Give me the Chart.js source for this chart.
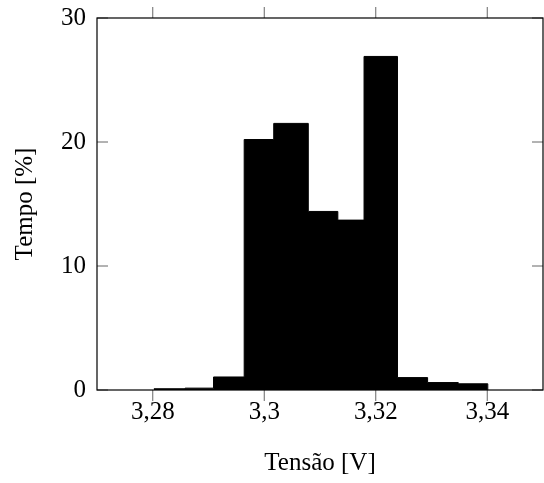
<!DOCTYPE html>
<html>
<head>
<meta charset="utf-8">
<title>Tempo x Tensão</title>
<script src="https://cdn.jsdelivr.net/npm/chart.js@4.4.0/dist/chart.umd.min.js"></script>
<style>
  html, body { margin: 0; padding: 0; background: #fff; }
  canvas { display: block; }
</style>
</head>
<body>
<canvas id="histChart" width="544" height="483"></canvas>
<script>
/* histogram bins: left edges + final right edge (V), heights in % */
const binEdges = [3.2802, 3.2858, 3.2909, 3.2964, 3.3017, 3.3079, 3.3132, 3.3179, 3.3239, 3.3293, 3.3348, 3.3401];
const binHeights = [0.1, 0.15, 1.05, 20.2, 21.5, 14.4, 13.7, 26.9, 1.0, 0.6, 0.5];

const xTicks = [3.28, 3.30, 3.32, 3.34];
const xTickLabels = ["3,28", "3,3", "3,32", "3,34"];
const yTicks = [0, 10, 20, 30];

const FONT = "'Liberation Serif', 'Times New Roman', serif";

/* step points: each left edge carries its bin height, last edge drops to 0 */
function buildSteps() {
  const pts = binHeights.map((h, i) => ({x: binEdges[i], y: h}));
  pts.push({x: binEdges[binEdges.length - 1], y: 0});
  return pts;
}

/* frame + pgfplots-like ticks (x outside, y inside) */
const frameTicks = {
  id: "frameTicks",
  afterDatasetsDraw(chart) {
    const {ctx, chartArea: a, scales} = chart;
    const len = 11;
    ctx.save();
    ctx.strokeStyle = "#555";
    ctx.lineWidth = 0.9;
    ctx.beginPath();
    xTicks.forEach(v => {
      const px = scales.x.getPixelForValue(v);
      ctx.moveTo(px, a.bottom); ctx.lineTo(px, a.bottom + len);
      ctx.moveTo(px, a.top); ctx.lineTo(px, a.top - len);
    });
    yTicks.forEach(v => {
      const py = scales.y.getPixelForValue(v);
      ctx.moveTo(a.left, py); ctx.lineTo(a.left + len, py);
      ctx.moveTo(a.right, py); ctx.lineTo(a.right - len, py);
    });
    ctx.stroke();
    ctx.strokeStyle = "#000";
    ctx.lineWidth = 1.2;
    ctx.strokeRect(a.left, a.top, a.right - a.left, a.bottom - a.top);
    ctx.restore();
  }
};

function initChart() {
  const ctx = document.getElementById("histChart").getContext("2d");
  new Chart(ctx, {
    type: "line",
    data: {
      datasets: [{
        data: buildSteps(),
        stepped: true,
        fill: "origin",
        backgroundColor: "#000",
        borderColor: "#000",
        borderWidth: 1,
        pointRadius: 0
      }]
    },
    options: {
      responsive: false,
      animation: false,
      layout: { padding: { top: 18, right: 1, left: 0, bottom: 0 } },
      plugins: { legend: { display: false }, tooltip: { enabled: false } },
      scales: {
        x: {
          type: "linear",
          min: 3.27,
          max: 3.35,
          afterBuildTicks: s => { s.ticks = xTicks.map(v => ({value: v})); },
          afterFit: s => { s.height = 93; s.paddingLeft = 0; s.paddingRight = 0; },
          grid: { display: false, drawTicks: false },
          border: { display: false },
          ticks: {
            color: "#000",
            padding: 7,
            maxRotation: 0,
            font: { family: FONT, size: 25 },
            callback: (v, i) => xTickLabels[i]
          },
          title: {
            display: true,
            text: "Tensão [V]",
            color: "#000",
            padding: { top: 0, bottom: 5 },
            font: { family: FONT, size: 25 }
          }
        },
        y: {
          min: 0,
          max: 30,
          afterBuildTicks: s => { s.ticks = yTicks.map(v => ({value: v})); },
          afterFit: s => { s.width = 97; s.paddingTop = 0; s.paddingBottom = 0; },
          grid: { display: false, drawTicks: false },
          border: { display: false },
          ticks: {
            color: "#000",
            padding: 11,
            font: { family: FONT, size: 25 }
          },
          title: {
            display: true,
            text: "Tempo [%]",
            color: "#000",
            padding: { top: 10, bottom: 0 },
            font: { family: FONT, size: 25 }
          }
        }
      }
    },
    plugins: [frameTicks]
  });
}

document.addEventListener("DOMContentLoaded", initChart);
</script>
</body>
</html>
